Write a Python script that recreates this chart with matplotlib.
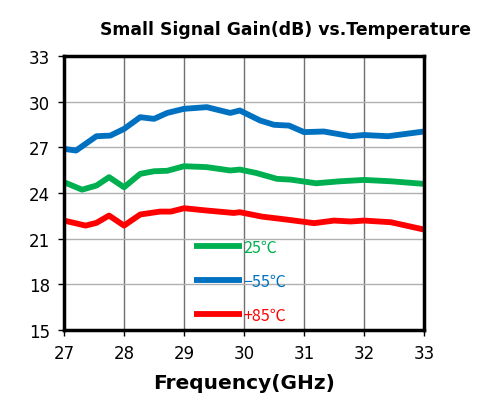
import matplotlib.pyplot as plt

## data
freq_b = [27.0, 27.2, 27.54, 27.77, 28.0, 28.27, 28.5, 28.72, 29.0, 29.38, 29.77, 29.93,
          30.27, 30.5, 30.75, 31.0, 31.33, 31.78, 32.0, 32.4, 33.0]
gain_m55 = [26.89, 26.78, 27.72, 27.76, 28.2, 28.97, 28.86, 29.25, 29.52, 29.63, 29.25, 29.41,
            28.75, 28.47, 28.42, 27.99, 28.03, 27.72, 27.8, 27.72, 28.03]

freq_g = [27.0, 27.3, 27.54, 27.75, 28.0, 28.27, 28.5, 28.72, 29.0, 29.38, 29.77, 29.93,
          30.2, 30.55, 30.78, 31.2, 31.6, 32.0, 32.45, 33.0]
gain_25 = [24.70, 24.21, 24.48, 25.03, 24.37, 25.25, 25.42, 25.45, 25.75, 25.69, 25.47, 25.53,
           25.31, 24.92, 24.87, 24.63, 24.76, 24.85, 24.76, 24.59]

freq_r = [27.0, 27.36, 27.54, 27.75, 28.0, 28.27, 28.6, 28.78, 29.0, 29.38, 29.83, 29.93,
          30.3, 30.7, 31.17, 31.5, 31.78, 32.0, 32.45, 33.0]
gain_85 = [22.18, 21.85, 22.03, 22.51, 21.85, 22.58, 22.77, 22.77, 22.99, 22.84, 22.68, 22.73,
           22.44, 22.25, 22.01, 22.18, 22.12, 22.18, 22.07, 21.59]

xticks = [27, 28, 29, 30, 31, 32, 33]
yticks = [15, 18, 21, 24, 27, 30, 33]

fig = plt.figure(figsize=(4.78, 4.06), dpi=100)
ax = fig.add_axes([0.134, 0.185, 0.753, 0.675])

lw = 4.2
ax.plot(freq_g, gain_25, color='#00b050', lw=lw, solid_capstyle='butt', solid_joinstyle='round', label='25℃')
ax.plot(freq_b, gain_m55, color='#0070c0', lw=lw, solid_capstyle='butt', solid_joinstyle='round', label='−55℃')
ax.plot(freq_r, gain_85, color='#ff0000', lw=lw, solid_capstyle='butt', solid_joinstyle='round', label='+85℃')

ax.set_xlim(27, 33)
ax.set_ylim(15, 33)
ax.set_xticks(xticks)
ax.set_yticks(yticks)
ax.tick_params(labelsize=12, length=4, width=1, direction='out', pad=6)
ax.xaxis.grid(True, color='#707070', lw=1)
ax.yaxis.grid(True, color='#b0b0b0', lw=1)
ax.set_axisbelow(True)
for s in ax.spines.values():
    s.set_linewidth(2.5)

leg = ax.legend(loc='upper left', bbox_to_anchor=(0.32, 0.385), frameon=False,
                handlelength=3.0, handletextpad=0.1, labelspacing=1.05,
                prop={'family': ['Noto Sans CJK SC', 'DejaVu Sans'], 'size': 11.5},
                labelcolor='linecolor')

fig.suptitle('Small Signal Gain(dB) vs.Temperature', x=0.597, y=0.948,
             fontsize=12.4, fontweight='bold', family='DejaVu Sans')
ax.set_xlabel('Frequency(GHz)', fontsize=14.5, fontweight='bold', labelpad=8)

fig.savefig('out.png', dpi=100)
